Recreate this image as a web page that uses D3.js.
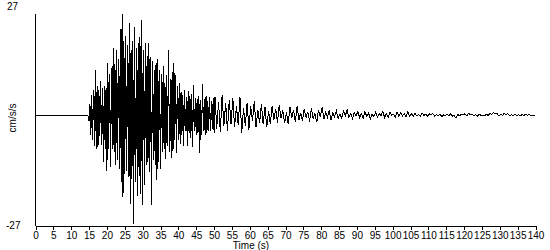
<!DOCTYPE html>
<meta charset="utf-8" />
<script src="https://d3js.org/d3.v7.min.js"></script>
<style>
    body { margin: 0; background: #fff; }
    text { font-family: 'Liberation Sans', Arial, sans-serif; font-size: 10px; fill: #000; }
</style>
<div id="my_dataviz"></div>

<script>
    // acceleration record (cm/s/s)
    const preEventTimes = [0, 14.5]
    const preEventValues = [0, 0]

    // strong motion: samples every 0.25 s from 14.75 s
    const strongStart = 14.75
    const strongDt = 0.25
    const strongMotion = [
        -0.3, -1.5, 2.8, -5.0, 4.8, -6.2, 6.0, -7.5, 10.9, -8.3,
        7.2, -7.9, 6.0, -5.2, 8.4, -7.3, 6.5, -11.5, 7.2, -8.3,
        6.5, -13.6, 12.8, -8.3, 10.1, -12.8, 11.4, -8.3, 16.3, -9.1,
        12.4, -12.3, 15.8, -11.1, 13.6, -13.2, 21.1, -16.4, 24.6, -20.1,
        18.2, -14.4, 19.4, -13.6, 17.0, -15.2, 22.4, -21.7, 15.8, -15.6,
        18.2, -26.6, 21.4, -16.4, 16.3, -19.7, 17.5, -14.8, 19.0, -19.3,
        23.1, -22.1, 15.8, -17.2, 17.5, -12.3, 14.5, -11.5, 17.5, -14.0,
        14.1, -22.1, 13.3, -11.1, 10.9, -12.3, 12.8, -16.0, 13.8, -11.5,
        10.9, -13.2, 9.9, -9.1, 11.9, -8.3, 7.7, -10.7, 9.7, -7.5,
        15.8, -9.1, 8.9, -10.4, 10.4, -8.7, 12.8, -6.2, 9.7, -9.2,
        7.2, -6.2, 7.7, -7.0, 5.7, -5.0, 5.0, -7.5, 6.0, -3.8,
        4.4, -7.5, 5.9, -4.5, 4.6, -5.7, 5.2, -7.9, 7.4, -3.8,
        4.2, -5.0, 3.8, -4.3, 4.6, -9.4, 3.6, -5.0, 7.6, -3.8,
        4.0, -5.0, 4.6, -4.5, 3.5, -3.8, 4.3, -4.0, 3.4, -3.3,
        4.1, -4.3
    ]

    // coda: samples every 0.5 s from 50.25 s
    const codaStart = 50.25
    const codaDt = 0.5
    const coda = [
        4.5, -3.3, 3.2, -4.1, 4.8, -2.6, 2.9, -3.8, 3.6, -2.2,
        4.1, -3.0, 2.2, -2.4, 4.3, -4.3, 1.8, -2.8, 3.0, -3.6,
        2.1, -1.4, 3.4, -2.9, 1.2, -1.9, 2.6, -2.3, 2.0, -3.0,
        1.0, -2.3, 2.3, -1.2, 1.5, -1.9, 2.4, -0.8, 1.1, -2.0,
        0.6, -2.1, 1.9, -0.7, 1.2, -1.8, 2.2, -1.2, 0.5, -1.5,
        1.5, -0.6, 0.8, -1.6, 1.7, -0.9, 0.4, -1.8, 1.3, -0.5,
        1.9, -1.0, 0.7, -0.6, 1.1, -1.3, 0.5, -0.4, 1.0, -0.9,
        0.3, -0.8, 0.9, -0.2, 1.3, -0.6, 0.4, -0.9, 0.6, -0.3,
        0.9, -0.6, 0.3, -0.7, 0.8, -0.4, 0.5, -0.9, 0.2, -0.4,
        0.7, -0.5, 0.4, -0.2, 0.9, -0.6, 0.3, -0.5, 0.6, -0.1,
        0.2, -0.6, 0.7, -0.3, 0.5, -0.2, 0.3, -0.5, 0.8, -0.3,
        0.4, -0.4,
        0.4, -0.2, 0.1, -0.4, 0.5, -0.1, 0.2, -0.3, 0.3, 0.0,
        0.4, -0.3, 0.1, -0.2, 0.3, -0.4, 0.0, -0.2, 0.2, -0.1,
        0.3, -0.3, -0.2, -0.8, 0.1, -0.2, 0.2, 0.0, 0.3, -0.2,
        0.4, 0.1, 0.2, -0.2, 0.1, -0.3, 0.2, -0.1, 0.0, -0.2,
        0.2, -0.1, 0.4, 0.2, 0.6, 0.3, 0.3, -0.2, 0.2, -0.1,
        0.4, 0.1, 0.3, -0.2, 0.1, -0.2, 0.2, -0.1, 0.1, -0.2,
        0.1, -0.1, 0.2, -0.1, 0.1, -0.1, 0.0, -0.1
    ]

    const xTicks = d3.range(0, 141, 5)
    const yLimit = 27

    // build the trace
    const trace = []
    preEventTimes.forEach((t, i) => trace.push({ t: t, v: preEventValues[i] }))
    strongMotion.forEach((v, i) => trace.push({ t: strongStart + i * strongDt, v: v }))
    coda.forEach((v, i) => trace.push({ t: codaStart + i * codaDt, v: v }))

    const W = 550, H = 250

    const svg = d3
        .select('#my_dataviz')
        .append('svg')
        .attr('width', W)
        .attr('height', H)

    const x = d3.scaleLinear().domain([0, 140]).range([35.5, 535.5])
    const y = d3.scaleLinear().domain([-yLimit, yLimit]).range([225.5, 4.5])

    // waveform
    svg.append('path')
        .datum(trace)
        .attr('fill', 'none')
        .attr('stroke', '#000')
        .attr('stroke-width', 1)
        .attr('shape-rendering', 'crispEdges')
        .attr('d', d3.line().x((d) => x(d.t)).y((d) => y(d.v)))

    // y axis: plain line with end labels
    svg.append('line')
        .attr('x1', x(0)).attr('x2', x(0))
        .attr('y1', 14).attr('y2', y(-yLimit))
        .attr('stroke', '#000')
        .attr('shape-rendering', 'crispEdges')

    svg.append('text').attr('x', 7).attr('y', 10).text(yLimit)
    svg.append('text').attr('x', 6).attr('y', 229).text(-yLimit)

    svg.append('text')
        .attr('transform', 'translate(16,118) rotate(-90)')
        .attr('text-anchor', 'middle')
        .text('cm/s/s')

    // x axis
    const xAxis = svg.append('g')
        .attr('transform', 'translate(0,' + y(-yLimit) + ')')
        .call(d3.axisBottom(x).tickValues(xTicks).tickSize(4).tickPadding(2).tickSizeOuter(0))
    xAxis.select('.domain').attr('shape-rendering', 'crispEdges')
    xAxis.selectAll('line').attr('shape-rendering', 'crispEdges')
    xAxis.selectAll('text')
        .attr('font-family', "'Liberation Sans', Arial, sans-serif")
        .attr('font-size', '10px')

    svg.append('text')
        .attr('x', 251)
        .attr('y', 249)
        .attr('text-anchor', 'middle')
        .text('Time (s)')
</script>
